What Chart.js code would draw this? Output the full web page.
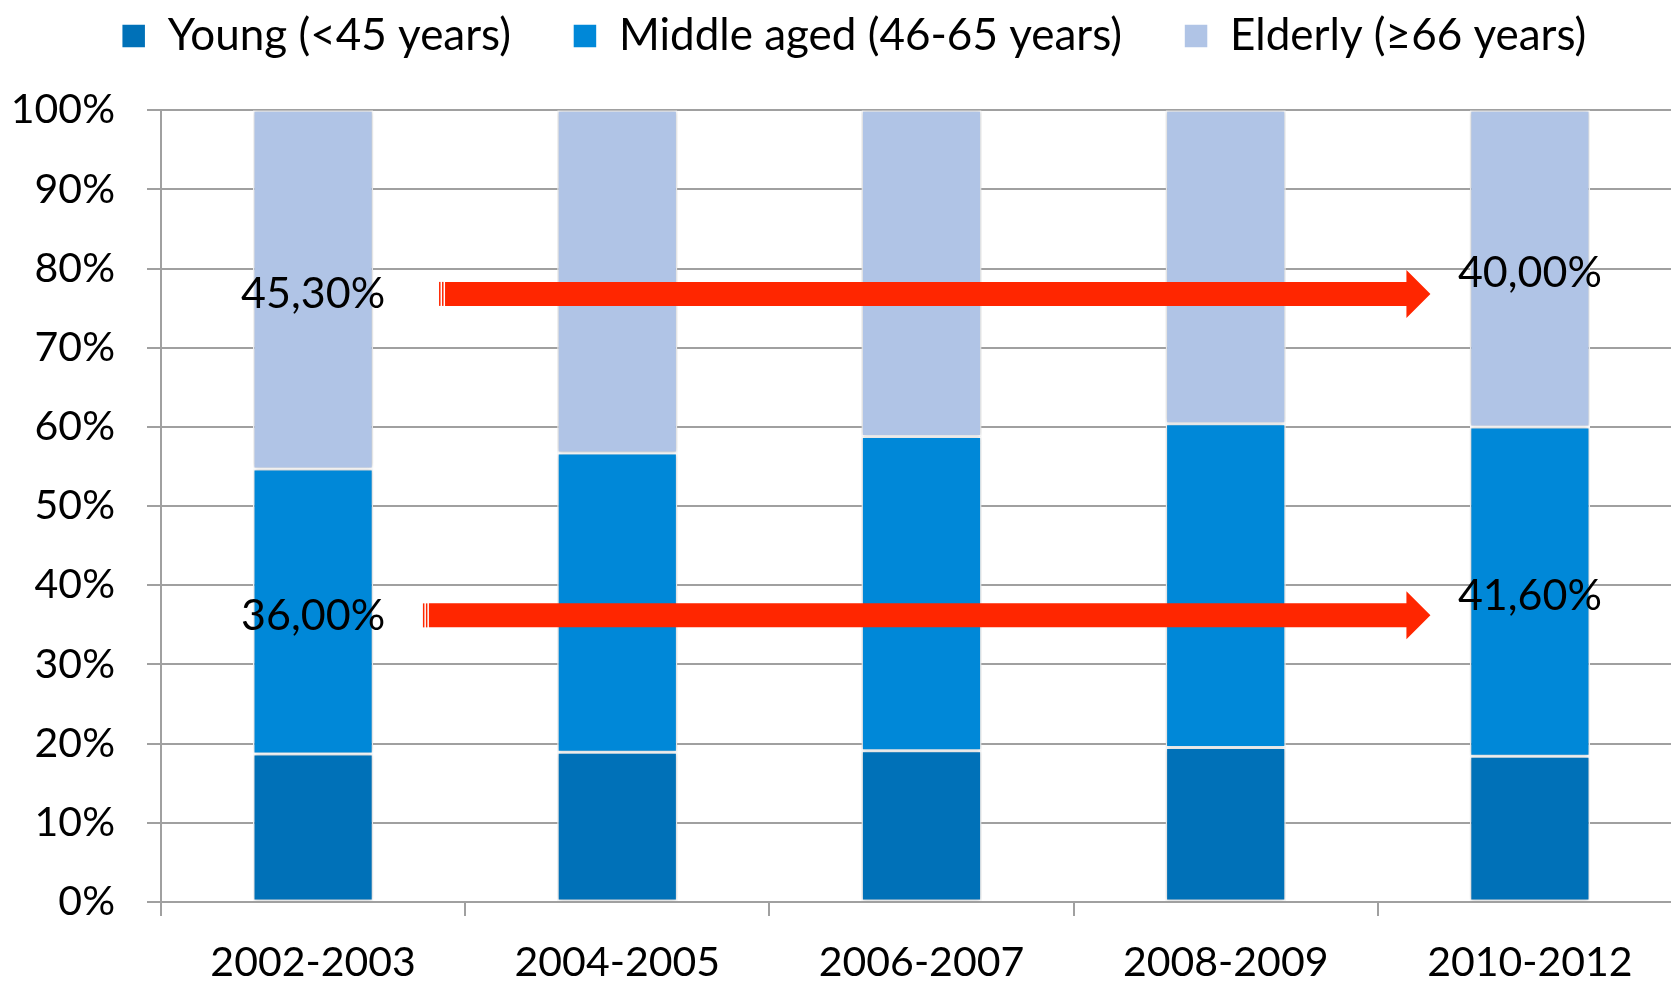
<!DOCTYPE html>
<html>
<head>
<meta charset="utf-8">
<script src="https://cdn.jsdelivr.net/npm/chart.js@4.4.1/dist/chart.umd.min.js"></script>
<style>
    html, body { margin: 0; padding: 0; background: #fff; overflow: hidden; }
    #wrap { position: relative; width: 1726px; height: 986px; }
</style>
</head>
<body>
<div id="wrap"><canvas id="myChart"></canvas></div>
<script>
const periods = ['2002-2003', '2004-2005', '2006-2007', '2008-2009', '2010-2012'];
const seriesNames = ['Young (<45 years)', 'Middle aged (46-65 years)', 'Elderly (≥66 years)'];
const young = [18.7, 18.9, 19.1, 19.5, 18.4];
const middleAged = [36.0, 37.8, 39.7, 40.9, 41.6];
const elderly = [45.3, 43.3, 41.2, 39.6, 40.0];

const FONT = 'Lato';
const TICK_FS = 41;
const LABEL_FS = 43;
const LEGEND_FS = 44;

// red arrows (category units / % height), labelled with first and last value of a series
const arrows = [
    { series: elderly, from: 0.414, to: 3.673, at: 76.8, startLabelAt: 76.8, endLabelAt: 79.4 },
    { series: middleAged, from: 0.361, to: 3.673, at: 36.2, startLabelAt: 36.1, endLabelAt: 38.6 }
];

const fmt = v => v.toFixed(2).replace('.', ',') + '%';

const shadowPlugin = {
    id: 'barShadow',
    beforeDatasetsDraw(chart) {
        const c = chart.ctx;
        c.save();
        c.shadowColor = 'rgba(0,0,0,0.25)';
        c.shadowBlur = 4;
    },
    afterDatasetsDraw(chart) {
        chart.ctx.restore();
    }
};

const arrowPlugin = {
    id: 'arrows',
    afterDatasetsDraw(chart) {
        const { ctx, scales: { x, y } } = chart;
        ctx.save();
        arrows.forEach(a => {
            const x0 = x.getPixelForValue(a.from);
            const x1 = x.getPixelForValue(a.to);
            const yc = y.getPixelForValue(a.at);
            const shaft = 12, head = 24, headLen = 24;
            ctx.fillStyle = '#ff2600';
            ctx.fillRect(x0, yc - shaft, 1.5, shaft * 2);
            ctx.fillRect(x0 + 3, yc - shaft, 1.5, shaft * 2);
            ctx.beginPath();
            ctx.moveTo(x0 + 6, yc - shaft);
            ctx.lineTo(x1 - headLen, yc - shaft);
            ctx.lineTo(x1 - headLen, yc - head);
            ctx.lineTo(x1, yc);
            ctx.lineTo(x1 - headLen, yc + head);
            ctx.lineTo(x1 - headLen, yc + shaft);
            ctx.lineTo(x0 + 6, yc + shaft);
            ctx.closePath();
            ctx.fill();

            ctx.fillStyle = '#000';
            ctx.font = LABEL_FS + 'px ' + FONT;
            ctx.textAlign = 'center';
            ctx.textBaseline = 'middle';
            const last = a.series.length - 1;
            ctx.fillText(fmt(a.series[0]), x.getPixelForValue(0), y.getPixelForValue(a.startLabelAt));
            ctx.fillText(fmt(a.series[last]), x.getPixelForValue(last), y.getPixelForValue(a.endLabelAt));
        });
        ctx.restore();
    }
};

const gridGrey = '#a0a0a0';
const ctx = document.getElementById('myChart');
new Chart(ctx, {
    type: 'bar',
    data: {
        labels: periods,
        datasets: [
            { label: seriesNames[0], data: young, backgroundColor: '#0071b8' },
            { label: seriesNames[1], data: middleAged, backgroundColor: '#0088d8' },
            { label: seriesNames[2], data: elderly, backgroundColor: '#b0c4e6' }
        ]
    },
    options: {
        responsive: true,
        maintainAspectRatio: false,
        animation: false,
        // left padding nudges the centred legend right, like the original
        layout: { padding: { left: 26, right: 44, top: -48, bottom: 0 } },
        datasets: {
            bar: {
                categoryPercentage: 1,
                barPercentage: 0.395,
                borderColor: '#ffffff',
                borderWidth: 1.5,
                borderSkipped: false
            }
        },
        plugins: {
            tooltip: { enabled: false },
            legend: {
                position: 'top',
                labels: {
                    color: '#000',
                    font: { family: FONT, size: LEGEND_FS },
                    boxWidth: 24,
                    boxHeight: 24,
                    padding: 62
                }
            },
            title: {
                display: true,
                text: '',
                weight: 500,
                font: { size: 1 },
                padding: { top: 0, bottom: 41 }
            }
        },
        scales: {
            x: {
                stacked: true,
                afterFit: s => { s.height = 84; },
                grid: {
                    drawOnChartArea: false,
                    color: gridGrey,
                    lineWidth: 2,
                    tickLength: 14
                },
                border: { color: gridGrey, width: 2 },
                ticks: {
                    color: '#000',
                    padding: 22,
                    font: { family: FONT, size: TICK_FS }
                }
            },
            y: {
                stacked: true,
                min: 0,
                max: 100,
                afterFit: s => {
                    s.width = 135;
                    s._computeLabelArea = () => null; // don't clip "100%" at the padding edge
                },
                grid: {
                    color: gridGrey,
                    lineWidth: 2,
                    tickLength: 14
                },
                border: { color: gridGrey, width: 2 },
                ticks: {
                    stepSize: 10,
                    color: '#000',
                    padding: 32,
                    font: { family: FONT, size: TICK_FS },
                    callback: v => v + '%'
                }
            }
        }
    },
    plugins: [shadowPlugin, arrowPlugin]
});
</script>
</body>
</html>
